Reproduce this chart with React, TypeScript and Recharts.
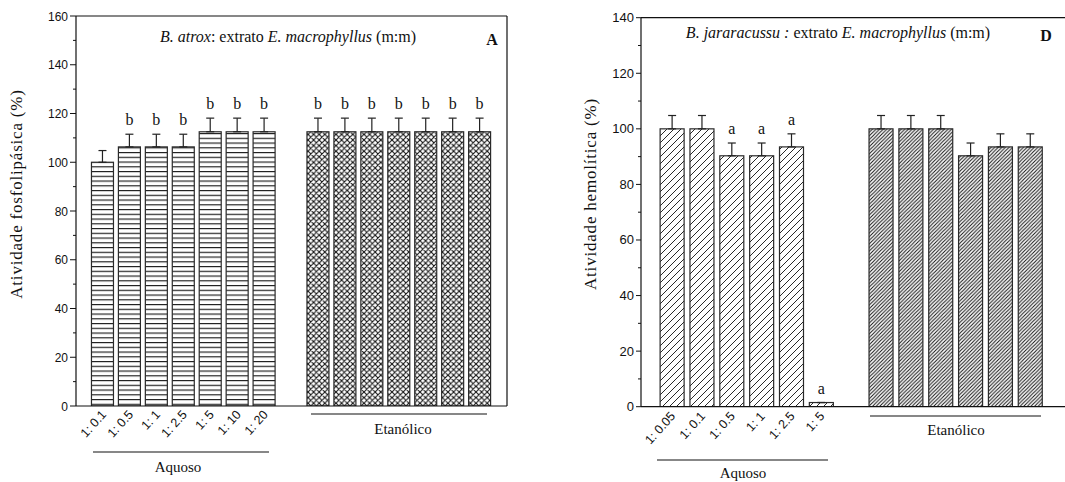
import React from 'react';
import { BarChart, Bar, XAxis, YAxis, ErrorBar, ReferenceLine } from 'recharts';

// ---------- Panel A (B. atrox, atividade fosfolipásica) ----------
const aAquosoLabels = ['1: 0.1', '1: 0.5', '1: 1', '1: 2.5', '1: 5', '1: 10', '1: 20'];
const aAquosoValues = [100, 106.3, 106.3, 106.3, 112.5, 112.5, 112.5];
const aAquosoErrors = [4.8, 5.2, 5.2, 5.2, 5.6, 5.6, 5.6];
const aAquosoSig = ['', 'b', 'b', 'b', 'b', 'b', 'b'];
const aEtanolValues = [112.5, 112.5, 112.5, 112.5, 112.5, 112.5, 112.5];
const aEtanolErrors = [5.6, 5.6, 5.6, 5.6, 5.6, 5.6, 5.6];
const aEtanolSig = ['b', 'b', 'b', 'b', 'b', 'b', 'b'];
const aYTicks = [0, 10, 20, 30, 40, 50, 60, 70, 80, 90, 100, 110, 120, 130, 140, 150, 160];

// ---------- Panel D (B. jararacussu, atividade hemolítica) ----------
const dAquosoLabels = ['1: 0.05', '1: 0.1', '1: 0.5', '1: 1', '1: 2.5', '1: 5'];
const dAquosoValues = [100, 100, 90.3, 90.3, 93.5, 1.5];
const dAquosoErrors = [4.8, 4.8, 4.6, 4.6, 4.7, 0];
const dAquosoSig = ['', '', 'a', 'a', 'a', 'a'];
const dEtanolValues = [100, 100, 100, 90.3, 93.5, 93.5];
const dEtanolErrors = [4.8, 4.8, 4.8, 4.6, 4.7, 4.7];
const dEtanolSig = ['', '', '', '', '', ''];
const dYTicks = [0, 10, 20, 30, 40, 50, 60, 70, 80, 90, 100, 110, 120, 130, 140];

type Row = { pos: number; value: number; e: number; err: [number, number]; sig: string; group: 'aq' | 'et' };

function buildRows(aqV: number[], aqE: number[], aqS: string[], etV: number[], etE: number[], etS: string[]): Row[] {
  const rows: Row[] = [];
  aqV.forEach((v, i) => rows.push({ pos: i, value: v, e: aqE[i], err: [0, aqE[i]], sig: aqS[i], group: 'aq' }));
  etV.forEach((v, i) => rows.push({ pos: aqV.length + 1 + i, value: v, e: etE[i], err: [0, etE[i]], sig: etS[i], group: 'et' }));
  return rows;
}

const aRows = buildRows(aAquosoValues, aAquosoErrors, aAquosoSig, aEtanolValues, aEtanolErrors, aEtanolSig);
const dRows = buildRows(dAquosoValues, dAquosoErrors, dAquosoSig, dEtanolValues, dEtanolErrors, dEtanolSig);

const SERIF = 'Liberation Serif, Times New Roman, DejaVu Serif, serif';
const SANS = 'Liberation Sans Narrow, Liberation Sans, Arial, sans-serif';
const SANS_REG = 'Liberation Sans, Arial, sans-serif';
const serifStyle = { fontFamily: SERIF };
const sansStyle = { fontFamily: SANS };
const sansRegStyle = { fontFamily: SANS_REG };

const makeShape = (aqFill: string, etFill: string) => (props: any) => {
  const { x, y, width, height, payload } = props;
  const fill = payload.group === 'aq' ? aqFill : etFill;
  const ppu = payload.value > 0 ? height / payload.value : 0;
  const capY = y - payload.e * ppu;
  return (
    <g>
      <rect x={x} y={y} width={width} height={height} fill={fill} stroke="#2a2a2a" strokeWidth={1.2} />
      {payload.sig ? (
        <text x={x + width / 2} y={capY - 9} textAnchor="middle" style={serifStyle} fontSize={16} fill="#111">
          {payload.sig}
        </text>
      ) : null}
    </g>
  );
};

const makeYTick = (major: number, majorLen: number, minorLen: number, fontSize: number) => (props: any) => {
  const { x, y, payload } = props;
  const isMajor = payload.value % major === 0;
  return (
    <g>
      <line x1={x} x2={x - (isMajor ? majorLen : minorLen)} y1={y} y2={y} stroke="#111" strokeWidth={1} />
      {isMajor ? (
        <text x={x - majorLen - 2} y={y} dy={4.5} textAnchor="end" style={sansStyle} fontSize={fontSize} fill="#111">
          {payload.value}
        </text>
      ) : null}
    </g>
  );
};

const makeXTick = (labels: string[], dx: number, dy: number) => (props: any) => {
  const { x, y, payload } = props;
  const label = labels[payload.value];
  if (label === undefined) return <g />;
  const tx = x + dx;
  const ty = y + dy;
  return (
    <text x={tx} y={ty} textAnchor="end" transform={`rotate(-48 ${tx} ${ty})`} style={sansRegStyle} fontSize={12.5} fill="#111">
      {label}
    </text>
  );
};

const Patterns = () => (
  <svg width={0} height={0} style={{ position: 'absolute' }}>
    <defs>
      <pattern id="hlines" patternUnits="userSpaceOnUse" width={6} height={4.75}>
        <rect width={6} height={4.75} fill="#fff" />
        <line x1={0} x2={6} y1={0.6} y2={0.6} stroke="#111" strokeWidth={1.1} />
      </pattern>
      <pattern id="xhatch" patternUnits="userSpaceOnUse" width={5.6} height={5.6}>
        <rect width={5.6} height={5.6} fill="#fff" />
        <path d="M0,0 L5.6,5.6 M5.6,0 L0,5.6 M-1,4.6 L1,6.6 M4.6,-1 L6.6,1 M-1,1 L1,-1 M4.6,6.6 L6.6,4.6" stroke="#111" strokeWidth={1.1} />
      </pattern>
      <pattern id="diagWide" patternUnits="userSpaceOnUse" width={7} height={7}>
        <rect width={7} height={7} fill="#fff" />
        <path d="M0,7 L7,0 M-1,1 L1,-1 M6,8 L8,6" stroke="#111" strokeWidth={0.9} />
      </pattern>
      <pattern id="diagDense" patternUnits="userSpaceOnUse" width={3.6} height={3.6}>
        <rect width={3.6} height={3.6} fill="#fff" />
        <path d="M0,3.6 L3.6,0 M-1,1 L1,-1 M2.6,4.6 L4.6,2.6" stroke="#111" strokeWidth={1} />
      </pattern>
    </defs>
  </svg>
);

const aShape = makeShape('url(#hlines)', 'url(#xhatch)');
const dShape = makeShape('url(#diagWide)', 'url(#diagDense)');

export default function App() {
  return (
    <div style={{ position: 'absolute', left: 0, top: 0, width: 1065, height: 482, overflow: 'hidden', background: '#fff' }}>
      <Patterns />
      <div style={{ position: 'absolute', left: 0, top: 0 }}>
        <BarChart width={530} height={482} data={aRows} margin={{ top: 16, right: 23, bottom: 0, left: 0 }}>
          <XAxis
            dataKey="pos"
            type="number"
            height={76}
            domain={[-1, 15]}
            ticks={[0, 1, 2, 3, 4, 5, 6]}
            interval={0}
            tickLine={false}
            tickSize={0}
            tickMargin={0}
            axisLine={{ stroke: '#111', strokeWidth: 1.2 }}
            tick={makeXTick(aAquosoLabels, 4, 9)}
            allowDataOverflow
          />
          <YAxis
            type="number"
            width={76}
            domain={[0, 160]}
            ticks={aYTicks}
            interval={0}
            tickLine={false}
            tickSize={0}
            tickMargin={0}
            axisLine={{ stroke: '#111', strokeWidth: 1.2 }}
            tick={makeYTick(20, 6, 3, 12)}
            allowDataOverflow
          />
          <ReferenceLine y={160} stroke="#111" strokeWidth={1.2} />
          <ReferenceLine x={15} stroke="#111" strokeWidth={1.2} />
          <Bar dataKey="value" barSize={22} isAnimationActive={false} shape={aShape}>
            <ErrorBar dataKey="err" width={4} stroke="#222" strokeWidth={1.2} direction="y" />
          </Bar>
        </BarChart>
      </div>
      <div style={{ position: 'absolute', left: 530, top: 0 }}>
        <BarChart width={536} height={482} data={dRows} margin={{ top: 17.7, right: 0, bottom: 0, left: 0 }}>
          <XAxis
            dataKey="pos"
            type="number"
            height={75.3}
            domain={[-1.04, 13.2]}
            ticks={[0, 1, 2, 3, 4, 5]}
            interval={0}
            tickLine={false}
            tickSize={0}
            tickMargin={0}
            axisLine={{ stroke: '#111', strokeWidth: 1.2 }}
            tick={makeXTick(dAquosoLabels, 4, 10)}
            allowDataOverflow
          />
          <YAxis
            type="number"
            width={111}
            domain={[0, 140]}
            ticks={dYTicks}
            interval={0}
            tickLine={false}
            tickSize={0}
            tickMargin={0}
            axisLine={{ stroke: '#111', strokeWidth: 1.2 }}
            tick={makeYTick(20, 5, 3, 13)}
            allowDataOverflow
          />
          <ReferenceLine y={140} stroke="#111" strokeWidth={1.2} />
          <Bar dataKey="value" barSize={24} isAnimationActive={false} shape={dShape}>
            <ErrorBar dataKey="err" width={4} stroke="#222" strokeWidth={1.2} direction="y" />
          </Bar>
        </BarChart>
      </div>
      <svg width={1065} height={482} style={{ position: 'absolute', left: 0, top: 0, pointerEvents: 'none' }}>
        {/* Panel A annotations */}
        <text x={288} y={42} textAnchor="middle" style={serifStyle} fontSize={16} fill="#111">
          <tspan fontStyle="italic">B. atrox</tspan>
          <tspan>: extrato </tspan>
          <tspan fontStyle="italic">E. macrophyllus</tspan>
          <tspan> (m:m)</tspan>
        </text>
        <text x={492} y={45} textAnchor="middle" style={serifStyle} fontSize={16} fontWeight="bold" fill="#111">A</text>
        <text x={0} y={0} transform="translate(22 194) rotate(-90)" textAnchor="middle" style={serifStyle} fontSize={17} letterSpacing={0.8} fill="#111">
          Atividade fosfolipásica (%)
        </text>
        <line x1={93} x2={269} y1={452} y2={452} stroke="#111" strokeWidth={1.2} />
        <text x={178} y={472} textAnchor="middle" style={serifStyle} fontSize={15} fill="#111">Aquoso</text>
        <line x1={311} x2={487} y1={414} y2={414} stroke="#111" strokeWidth={1.2} />
        <text x={403} y={434} textAnchor="middle" style={serifStyle} fontSize={15} fill="#111">Etanólico</text>

        {/* Panel D annotations */}
        <text x={838} y={38} textAnchor="middle" style={serifStyle} fontSize={16} fill="#111">
          <tspan fontStyle="italic">B. jararacussu :</tspan>
          <tspan> extrato </tspan>
          <tspan fontStyle="italic">E. macrophyllus</tspan>
          <tspan> (m:m)</tspan>
        </text>
        <text x={1046} y={41} textAnchor="middle" style={serifStyle} fontSize={16} fontWeight="bold" fill="#111">D</text>
        <text x={0} y={0} transform="translate(596 194) rotate(-90)" textAnchor="middle" style={serifStyle} fontSize={17} letterSpacing={0.8} fill="#111">
          Atividade hemolítica  (%)
        </text>
        <line x1={657} x2={828} y1={460} y2={460} stroke="#111" strokeWidth={1.2} />
        <text x={743} y={478} textAnchor="middle" style={serifStyle} fontSize={15} fill="#111">Aquoso</text>
        <line x1={870} x2={1041} y1={416} y2={416} stroke="#111" strokeWidth={1.2} />
        <text x={956} y={435} textAnchor="middle" style={serifStyle} fontSize={15} fill="#111">Etanólico</text>
      </svg>
    </div>
  );
}
